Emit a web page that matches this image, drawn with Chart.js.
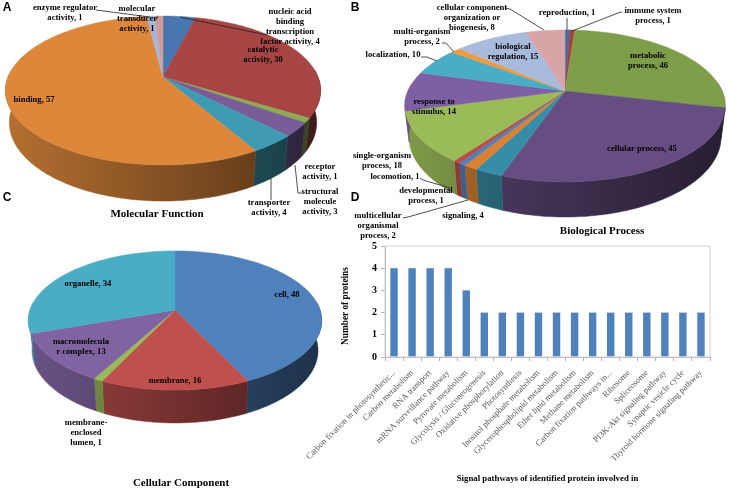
<!DOCTYPE html>
<html>
<head>
<meta charset="utf-8">
<script src="https://cdn.jsdelivr.net/npm/chart.js@4"></script>
<style>
    html, body { margin: 0; padding: 0; background: #fff; }
    #page { position: relative; width: 730px; height: 492px; overflow: hidden; }
    canvas { position: absolute; left: 0; top: 0; }
</style>
</head>
<body>
<div id="page">
    <canvas id="pathwayChart" width="730" height="492"></canvas>
    <canvas id="functionChart" width="730" height="492"></canvas>
    <canvas id="processChart" width="730" height="492"></canvas>
    <canvas id="componentChart" width="730" height="492"></canvas>
</div>
<script>
// --- Molecular Function ---
const functionLabels = ['nucleic acid\nbinding\ntranscription\nfactor activity', 'catalytic\nactivity', 'receptor\nactivity', 'structural\nmolecule\nactivity', 'transporter\nactivity', 'binding', 'enzyme regulator\nactivity', 'molecular\ntransducer\nactivity'];
const functionValues = [4, 30, 1, 3, 4, 57, 1, 1];
const functionColors = ['#4876AE', '#A64544', '#8FAB52', '#775C98', '#3F9AB3', '#DD873A', '#A3B7DB', '#D29B9A'];

// --- Biological Process ---
const processLabels = ['reproduction', 'immune system\nprocess', 'metabolic\nprocess', 'cellular process', 'signaling', 'multicellular\norganismal\nprocess', 'developmental\nprocess', 'locomotion', 'single-organism\nprocess', 'response to\nstimulus', 'localization', 'multi-organism\nprocess', 'biological\nregulation', 'cellular component\norganization or\nbiogenesis'];
const processValues = [1, 1, 46, 45, 4, 2, 1, 1, 18, 14, 10, 2, 15, 8];
const processColors = ['#3F6EA8', '#A8403E', '#7F9E4A', '#664E83', '#378DA7', '#DA8232', '#4F81BD', '#B94A48', '#9BBB59', '#7F5FA3', '#4BACC6', '#F09A3E', '#A9BBDD', '#D8A5A6'];

// --- Cellular Component ---
const componentLabels = ['cell', 'membrane', 'membrane-\nenclosed\nlumen', 'macromolecula\nr complex', 'organelle'];
const componentValues = [48, 16, 1, 13, 34];
const componentColors = ['#4F81BD', '#C0504D', '#9BBB59', '#8064A2', '#4BACC6'];

// --- Signal pathways ---
const pathwayLabels = ['Carbon fixation in photosynthetic...', 'Carbon metabolism', 'RNA transport', 'mRNA surveillance pathway', 'Pyruvate metabolism', 'Glycolysis / Gluconeogenesis', 'Oxidative phosphorylation', 'Photosynthesis', 'Inositol phosphate metabolism', 'Glycerophospholipid metabolism', 'Ether lipid metabolism', 'Methane metabolism', 'Carbon fixation pathways in...', 'Ribosome', 'Spliceosome', 'PI3K-Akt signaling pathway', 'Synaptic vesicle cycle', 'Thyroid hormone signaling pathway'];
const pathwayValues = [4, 4, 4, 4, 3, 2, 2, 2, 2, 2, 2, 2, 2, 2, 2, 2, 2, 2];
const yTicks = [0, 1, 2, 3, 4, 5];

// --- Layout (page pixels) ---
const SERIF = "'Liberation Serif', serif";
const RIM_SHRINK = 0.975; // lower disc is further from the viewer

const functionPie = { cx: 163, cy: 77, radius: 155, spread: 72, tilt: 0.181, depth: 31.4 };
const processPie = { cx: 565, cy: 91, radius: 157, spread: 73, tilt: 0.197, depth: 30 };
const componentPie = { cx: 175, cy: 310, radius: 145, spread: 68, tilt: 0.151, depth: 29.6 };

const functionLabelPos = [[290, 12], [263, 50], [320, 167], [320, 192], [269, 203], [34, 100], [65, 8], [137, 9]];
const processLabelPos = [[567, 13], [653, 11], [648, 56], [642, 149], [463, 216], [378, 216], [426, 191], [395, 177], [382, 156], [434, 102], [393, 55], [422, 32], [513, 47], [472, 8]];
const componentLabelPos = [[287, 295], [175, 381], [86, 423], [81, 342], [88, 284]];

const functionLeaders = [
    [[96, 10], [150, 17]],
    [[156, 20], [158, 16]],
    [[180, 17], [267, 35]],
    [[295, 165], [298, 193], [302, 193]],
    [[271, 178], [271, 200]]
];
const processLeaders = [
    [[505, 8], [510, 9], [544, 30]],
    [[567, 18], [567, 30]],
    [[622, 12], [618, 13], [572, 31]],
    [[442, 43], [446, 43], [454, 52]],
    [[421, 57], [427, 57], [437, 61]],
    [[420, 178], [423, 180], [450, 188]],
    [[403, 218], [408, 217], [468, 200]]
];

// --- Helpers ---
const shade = (hex, f) => {
    const n = parseInt(hex.slice(1), 16);
    return `rgb(${Math.round((n >> 16) * f)}, ${Math.round(((n >> 8) & 255) * f)}, ${Math.round((n & 255) * f)})`;
};

// angle on the flat disc -> page position, near edge is bigger than far edge
const project = (g, angle, lift = 0, size = 1) => {
    const v = Math.sin(angle);
    const k = 1 / (1 - g.tilt * v);
    return { x: g.cx + g.radius * size * Math.cos(angle) * k, y: g.cy + (g.spread * size * v + lift) * k };
};

const arcPoints = (g, from, to, lift = 0, size = 1) => {
    const steps = Math.max(2, Math.ceil((to - from) / 0.02));
    const points = [];
    for (let s = 0; s <= steps; s++) {
        points.push(project(g, from + (to - from) * s / steps, lift, size));
    }
    return points;
};

// Draws the arcs the pie controller has laid out, with a rim below them
const pie3d = {
    id: 'pie3d',
    beforeDatasetsDraw(chart, args, opts) {
        const ctx = chart.ctx;
        const g = opts.geometry;
        const arcs = chart.getDatasetMeta(0).data;
        const colors = chart.data.datasets[0].backgroundColor;

        // rim, only the part facing the viewer
        arcs.forEach((arc, i) => {
            const from = Math.max(arc.startAngle, -0.1);
            const to = Math.min(arc.endAngle, Math.PI + 0.1);
            if (to <= from) return;
            const top = arcPoints(g, from, to);
            const bottom = arcPoints(g, from, to, g.depth, RIM_SHRINK).reverse();
            const fill = ctx.createLinearGradient(g.cx - g.radius, 0, g.cx + g.radius, 0);
            fill.addColorStop(0, shade(colors[i], 0.82));
            fill.addColorStop(1, shade(colors[i], 0.38));
            ctx.beginPath();
            top.concat(bottom).forEach((p, n) => (n ? ctx.lineTo(p.x, p.y) : ctx.moveTo(p.x, p.y)));
            ctx.closePath();
            ctx.fillStyle = fill;
            ctx.strokeStyle = fill;
            ctx.lineWidth = 0.5;
            ctx.fill();
            ctx.stroke();
        });

        // top face
        arcs.forEach((arc, i) => {
            ctx.beginPath();
            ctx.moveTo(g.cx, g.cy);
            arcPoints(g, arc.startAngle, arc.endAngle).forEach(p => ctx.lineTo(p.x, p.y));
            ctx.closePath();
            ctx.fillStyle = colors[i];
            ctx.strokeStyle = colors[i];
            ctx.lineWidth = 0.5;
            ctx.fill();
            ctx.stroke();
        });
        return false;
    },
    afterDraw(chart, args, opts) {
        const ctx = chart.ctx;
        ctx.save();
        (opts.leaders || []).forEach(line => {
            ctx.beginPath();
            line.forEach(([x, y], i) => (i ? ctx.lineTo(x, y) : ctx.moveTo(x, y)));
            ctx.strokeStyle = '#222';
            ctx.lineWidth = 0.8;
            ctx.stroke();
        });

        ctx.fillStyle = '#000';
        ctx.textAlign = 'center';
        ctx.textBaseline = 'middle';
        ctx.font = `bold 8.6px ${SERIF}`;
        chart.data.labels.forEach((label, i) => {
            const [x, y] = opts.labelPos[i];
            const text = `${label}, ${chart.data.datasets[0].data[i]}`;
            text.split('\n').forEach((line, n) => ctx.fillText(line, x, y + n * 10));
        });

        ctx.font = `bold 11px ${SERIF}`;
        ctx.fillText(opts.title, opts.titlePos[0], opts.titlePos[1]);

        ctx.font = "bold 12px 'Liberation Sans', sans-serif";
        ctx.fillText(opts.letter, opts.letterPos[0], opts.letterPos[1]);
        ctx.restore();
    }
};

const makePie = (id, labels, values, colors, settings) => new Chart(document.getElementById(id), {
    type: 'pie',
    data: { labels, datasets: [{ data: values, backgroundColor: colors, borderWidth: 0 }] },
    options: {
        responsive: false,
        animation: false,
        plugins: { legend: { display: false }, tooltip: { enabled: false }, pie3d: settings }
    },
    plugins: [pie3d]
});

makePie('functionChart', functionLabels, functionValues, functionColors, {
    geometry: functionPie, labelPos: functionLabelPos, leaders: functionLeaders,
    title: 'Molecular Function', titlePos: [157, 214], letter: 'A', letterPos: [7, 8]
});
makePie('processChart', processLabels, processValues, processColors, {
    geometry: processPie, labelPos: processLabelPos, leaders: processLeaders,
    title: 'Biological Process', titlePos: [602, 231], letter: 'B', letterPos: [355, 8]
});
makePie('componentChart', componentLabels, componentValues, componentColors, {
    geometry: componentPie, labelPos: componentLabelPos, leaders: [],
    title: 'Cellular Component', titlePos: [181, 483], letter: 'C', letterPos: [7, 198]
});

// --- Bar chart ---
const plotFrame = {
    id: 'plotFrame',
    afterDraw(chart) {
        const { ctx, chartArea: a } = chart;
        ctx.save();
        ctx.strokeStyle = '#d4d4d4';
        ctx.lineWidth = 1;
        ctx.strokeRect(a.left, a.top, a.right - a.left, a.bottom - a.top);
        ctx.fillStyle = '#000';
        ctx.textAlign = 'center';
        ctx.textBaseline = 'middle';
        ctx.font = "bold 12px 'Liberation Sans', sans-serif";
        ctx.fillText('D', 355, 198);
        // y title sits a little below the middle of the plot
        ctx.translate(346, 306);
        ctx.rotate(-Math.PI / 2);
        ctx.font = `bold 9.3px ${SERIF}`;
        ctx.fillText('Number of proteins', 0, 0);
        ctx.restore();
    }
};

new Chart(document.getElementById('pathwayChart'), {
    type: 'bar',
    data: {
        labels: pathwayLabels,
        datasets: [{ data: pathwayValues, backgroundColor: '#4F81BD', barPercentage: 0.41, categoryPercentage: 1 }]
    },
    options: {
        responsive: false,
        animation: false,
        layout: { padding: { top: 246, right: 20, bottom: 8, left: 338 } },
        plugins: { legend: { display: false }, tooltip: { enabled: false } },
        scales: {
            x: {
                afterFit: scale => { scale.height = 127; },
                grid: { offset: true, drawOnChartArea: false, tickLength: 4, color: '#b0b0b0' },
                border: { color: '#a8a8a8' },
                ticks: { minRotation: 45, maxRotation: 45, autoSkip: false, padding: 7, color: '#555', font: { family: SERIF, size: 8.6 } },
                title: { display: true, text: 'Signal pathways of identified protein involved in', color: '#000', padding: 0, font: { family: SERIF, size: 8.8, weight: 'bold' } }
            },
            y: {
                min: 0,
                max: 5,
                afterFit: scale => { scale.width = 47; },
                afterBuildTicks: scale => { scale.ticks = yTicks.map(value => ({ value })); },
                grid: { drawOnChartArea: false, tickLength: 4, color: '#b0b0b0' },
                border: { color: '#a8a8a8' },
                ticks: { padding: 4, color: '#000', font: { family: SERIF, size: 10, weight: 'bold' } }
            }
        }
    },
    plugins: [plotFrame]
});
</script>
</body>
</html>
